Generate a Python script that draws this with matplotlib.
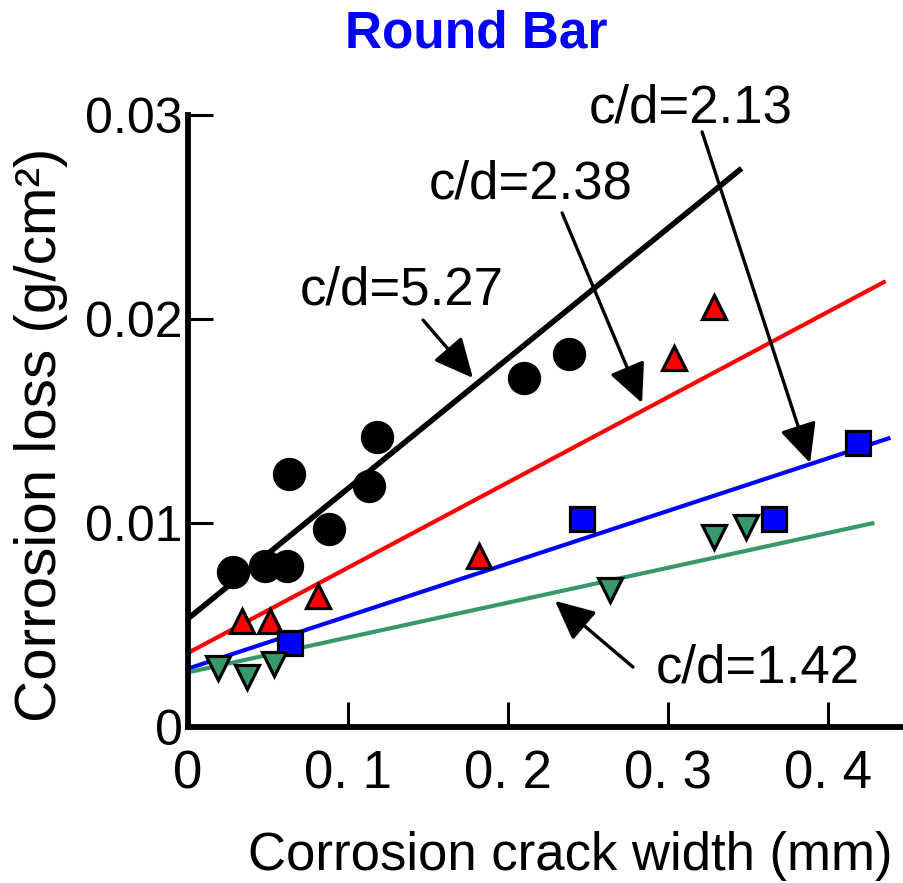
import numpy as np
import matplotlib
matplotlib.use("Agg")
from matplotlib import pyplot as plt

plt.rcParams['font.family'] = ['Liberation Sans', 'DejaVu Sans']

# data
cd527_x = [0.028, 0.048, 0.062, 0.063, 0.088, 0.113, 0.118, 0.210, 0.238]
cd527_y = [0.0076, 0.0079, 0.0079, 0.0124, 0.0097, 0.0118, 0.0142, 0.0171, 0.0183]

cd238_x = [0.034, 0.051, 0.081, 0.182, 0.304, 0.329]
cd238_y = [0.0052, 0.0052, 0.0064, 0.0084, 0.0181, 0.0206]

cd213_x = [0.064, 0.246, 0.366, 0.419]
cd213_y = [0.0041, 0.0102, 0.0102, 0.0139]

cd142_x = [0.019, 0.037, 0.054, 0.264, 0.329, 0.349]
cd142_y = [0.0029, 0.00245, 0.0031, 0.0067, 0.0093, 0.0098]

# fitted lines: intercept, slope, x end
fit_intercept = [0.00531, 0.00363, 0.00286, 0.00268]
fit_slope = [0.0638, 0.0418, 0.02578, 0.01708]
fit_xend = [0.346, 0.436, 0.439, 0.429]
fit_colors = ['black', '#ff0000', '#0000ff', '#37996a']
fit_lw = [4.0, 3.0, 3.0, 3.0]

xticks = [0, 0.1, 0.2, 0.3, 0.4]
xticklabels = ['0', '0. 1', '0. 2', '0. 3', '0. 4']
yticks = [0, 0.01, 0.02, 0.03]
yticklabels = ['0', '0.01', '0.02', '0.03']

# labels: text, text position, arrow tail, arrow tip
notes = [
    ('c/d=5.27', (0.1338, 0.02069), (0.1469, 0.01995), (0.1781, 0.01711)),
    ('c/d=2.38', (0.2144, 0.02593), (0.2338, 0.0252), (0.2838, 0.01588)),
    ('c/d=2.13', (0.3144, 0.02961), (0.3213, 0.02917), (0.3888, 0.01294)),
    ('c/d=1.42', (0.3563, 0.0022), (0.2781, 0.00294), (0.2294, 0.00618)),
]

fig = plt.figure(figsize=(9.04, 8.83), dpi=100)
ax = fig.add_axes([188 / 904, 1 - 727 / 883, 716 / 904, 612 / 883])

for b, m, xe, c, lw in zip(fit_intercept, fit_slope, fit_xend, fit_colors, fit_lw):
    xs = np.array([0, xe])
    ax.plot(xs, b + m * xs, color=c, lw=lw, solid_capstyle='butt', zorder=2)

ax.plot(cd527_x, cd527_y, 'o', ms=23, color='black', mec='black', zorder=3)
ax.plot(cd238_x, cd238_y, '^', ms=17.5, color='#ff0000', mec='black', mew=2.3, zorder=3)
ax.plot(cd213_x, cd213_y, 's', ms=17, color='#0000ff', mec='black', mew=2.3, zorder=3)
ax.plot(cd142_x, cd142_y, 'v', ms=17.5, color='#37996a', mec='black', mew=2.3, zorder=3)

for txt, tpos, tail, tip in notes:
    ax.text(tpos[0], tpos[1], txt, fontsize=38, ha='center', va='baseline', clip_on=False)
    ax.annotate('', xy=tip, xytext=tail,
                arrowprops=dict(arrowstyle='-|>,head_length=0.8,head_width=0.38',
                                mutation_scale=30, lw=2.4, color='black',
                                shrinkA=0, shrinkB=0))

ax.set_xlim(0, 0.4475)
ax.set_ylim(0, 0.03)
ax.spines['top'].set_visible(False)
ax.spines['right'].set_visible(False)
ax.spines['left'].set_linewidth(4.2)
ax.spines['bottom'].set_linewidth(4.2)
ax.set_xticks(xticks)
ax.set_xticklabels(xticklabels)
ax.set_yticks(yticks)
ax.set_yticklabels(yticklabels)
ax.tick_params(axis='both', direction='in', length=18, width=2.2)
ax.tick_params(axis='x', pad=16, labelsize=38)
ax.tick_params(axis='y', pad=4, labelsize=36)

fig.text(476 / 904, 1 - 48 / 883, 'Round Bar', fontsize=37, fontweight='bold',
         color='#0000ff', ha='center', va='baseline')
fig.text(570 / 904, 1 - 870 / 883, 'Corrosion crack width (mm)', fontsize=38,
         ha='center', va='baseline')
fig.text(41 / 904, 1 - 435 / 883, 'Corrosion loss (g/cm²)', fontsize=42,
         rotation=90, ha='center', va='center')

fig.savefig('out.png', dpi=100)
